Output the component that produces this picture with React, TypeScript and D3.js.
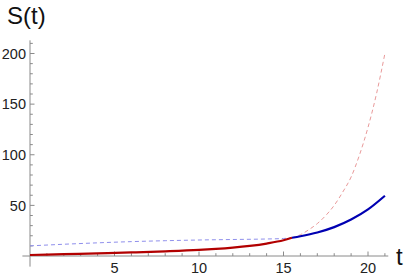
import * as d3 from "d3";
import { useRef, useEffect } from "react";

// values
const redSolidT = [0, 2, 4, 6, 8, 10, 11, 12, 13, 14, 15, 15.5];
const redSolidS = [1, 1.8, 2.6, 3.5, 4.6, 6, 7, 8.3, 10, 12.3, 15.5, 18];

const blueDashT = [0, 2, 4, 6, 8, 10, 12, 14, 15, 15.5];
const blueDashS = [10, 11.6, 13, 14.2, 15.1, 15.8, 16.3, 16.8, 17.3, 18];

const blueSolidT = [15.5, 16, 17, 18, 19, 20, 21];
const blueSolidS = [18, 19.5, 23.2, 28.5, 36, 46, 59.5];

const redDashT = [15.5, 16, 16.5, 17, 17.5, 18, 18.5, 19, 19.5, 20, 20.5, 21];
const redDashS = [18, 21, 26, 32, 40, 50, 63, 78, 100, 127, 160, 200];

const xMajor = [5, 10, 15, 20];
const yMajor = [50, 100, 150, 200];

const W = 409;
const H = 279;

const App = () => {
  const ref = useRef<SVGSVGElement>(null);

  useEffect(() => {
    const svg = d3.select(ref.current);
    svg.selectAll("*").remove();

    const x = d3.scaleLinear().domain([0, 20]).range([30, 368]);
    const y = d3.scaleLinear().domain([0, 200]).range([256, 53.5]);

    const font = "'Liberation Sans', Arial, sans-serif";
    const axisColor = "#8a8a8a";

    // axes
    svg.append("line")
      .attr("x1", x(-0.45)).attr("x2", x(21.2))
      .attr("y1", y(0)).attr("y2", y(0))
      .attr("stroke", axisColor).attr("stroke-width", 1);
    svg.append("line")
      .attr("x1", x(0)).attr("x2", x(0))
      .attr("y1", y(-10.5)).attr("y2", y(213))
      .attr("stroke", axisColor).attr("stroke-width", 1);

    // x ticks, every unit
    d3.range(1, 22).forEach(t => {
      const major = t % 5 === 0;
      svg.append("line")
        .attr("x1", x(t)).attr("x2", x(t))
        .attr("y1", y(0)).attr("y2", y(0) - (major ? 4.5 : 2.8))
        .attr("stroke", axisColor).attr("stroke-width", 1);
    });
    // y ticks, every 10
    d3.range(10, 220, 10).forEach(v => {
      const major = v % 50 === 0;
      svg.append("line")
        .attr("x1", x(0)).attr("x2", x(0) + (major ? 4.5 : 2.8))
        .attr("y1", y(v)).attr("y2", y(v))
        .attr("stroke", axisColor).attr("stroke-width", 1);
    });

    svg.selectAll(".xl").data(xMajor).enter().append("text")
      .attr("x", d => x(d)).attr("y", 273)
      .attr("text-anchor", "middle")
      .attr("font-family", font).attr("font-size", 14.5)
      .attr("fill", "#222")
      .text(d => d);

    svg.selectAll(".yl").data(yMajor).enter().append("text")
      .attr("x", 26).attr("y", d => y(d))
      .attr("dy", "0.36em")
      .attr("text-anchor", "end")
      .attr("font-family", font).attr("font-size", 14.5)
      .attr("fill", "#222")
      .text(d => d);

    svg.append("text")
      .attr("x", 7).attr("y", 24)
      .attr("font-family", font).attr("font-size", 24)
      .attr("fill", "#111")
      .text("S(t)");
    svg.append("text")
      .attr("x", 396).attr("y", 265)
      .attr("font-family", font).attr("font-size", 24)
      .attr("fill", "#111")
      .text("t");

    const line = d3.line<[number, number]>()
      .x(d => x(d[0]))
      .y(d => y(d[1]))
      .curve(d3.curveMonotoneX);

    const draw = (ts: number[], ss: number[], color: string, width: number, dash: string | null) => {
      const p = svg.append("path")
        .datum(ts.map((t, i) => [t, ss[i]] as [number, number]))
        .attr("fill", "none")
        .attr("stroke", color)
        .attr("stroke-width", width)
        .attr("d", line);
      if (dash) p.attr("stroke-dasharray", dash);
    };

    draw(blueDashT, blueDashS, "#8f8fec", 1, "4,3");
    draw(redDashT, redDashS, "#e99a9a", 1, "4,3");
    draw(redSolidT, redSolidS, "#b20000", 2.2, null);
    draw(blueSolidT, blueSolidS, "#0000b2", 2.2, null);
  }, []);

  return <svg ref={ref} width={W} height={H} style={{ position: "absolute", left: 0, top: 0 }} />;
};

export default App;
